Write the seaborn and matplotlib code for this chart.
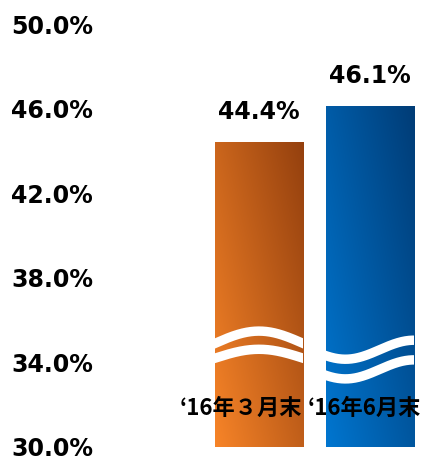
import numpy as np
import matplotlib
matplotlib.use("Agg")
import matplotlib.pyplot as plt
import matplotlib.transforms as mtransforms
import seaborn as sns
import pandas as pd

# ---- data ----
categories = ["\u201816年３月末", "\u201816年6月末"]
values = [44.4, 46.1]
yticks = [30, 34, 38, 42, 46, 50]
tick_labels = [f"{t:.1f}%" for t in yticks]

# ---- styles ----
grad_light = [np.array([0xF7, 0x84, 0x28]) / 255, np.array([0x00, 0x76, 0xD0]) / 255]
grad_dark = [np.array([0x94, 0x40, 0x0E]) / 255, np.array([0x00, 0x3C, 0x76]) / 255]
label_shift = [-0.16, -0.05]

sns.set_theme(style="white")
plt.rcParams["font.family"] = ["DejaVu Sans"]

fig = plt.figure(figsize=(4.23, 4.59), dpi=100)
ax = fig.add_axes([100 / 423, 12 / 459, 323 / 423, 423 / 459])

df = pd.DataFrame({"period": categories, "ratio": values})
sns.barplot(data=df, x="period", y="ratio", ax=ax, width=0.793,
            color="#888888", saturation=1)

ylo, yhi = 30, 50
xlim = (-1.432, 1.477)

nx, ny = 120, 200
X, Y = np.meshgrid(np.linspace(0, 1, nx), np.linspace(0, 1, ny))
S = np.clip(0.55 * X + 0.45 * Y, 0, 1)[..., None]

for i, p in enumerate(ax.patches):
    x0, w, top = p.get_x(), p.get_width(), p.get_height()
    p.set_facecolor("none")
    p.set_edgecolor("none")
    rgb = grad_light[i] * (1 - S) + grad_dark[i] * S
    im = ax.imshow(rgb, extent=[x0, x0 + w, ylo, top], origin="lower",
                   aspect="auto", zorder=2, interpolation="bilinear")
    im.set_clip_path(p)

    # decorative axis-break waves
    t = np.linspace(-0.05, 1.05, 300)
    xs = x0 + t * w
    if i == 0:
        y1 = 34.9 + 0.58 * np.sin(np.pi * t)
        y2 = 34.2 + 0.42 * np.sin(np.pi * t)
    else:
        y1 = 34.6 - 0.45 * np.cos(np.pi * (t - 0.22) / 0.78)
        y2 = y1 - 0.93
    for yy in (y1, y2):
        ln, = ax.plot(xs, yy, color="white", lw=6.8, zorder=3,
                      solid_capstyle="butt")
        ln.set_clip_path(p)

    # value label
    ax.annotate(f"{values[i]:.1f}%", (x0 + w / 2, top), xytext=(0, 21.6),
                textcoords="offset points", ha="center", va="center",
                fontsize=17, fontweight="bold", color="black", zorder=5)

    # category label inside bar
    trans = mtransforms.blended_transform_factory(ax.transData, ax.transAxes)
    ax.text(x0 + w / 2 + label_shift[i], (447 - 408) / 423, categories[i],
            transform=trans, ha="center", va="center", fontsize=16,
            fontweight="bold", color="black", zorder=5,
            family=["Noto Sans CJK JP", "DejaVu Sans"])

ax.set_xlim(*xlim)
ax.set_ylim(ylo, yhi)
ax.set_yticks(yticks)
ax.set_yticklabels(tick_labels, fontsize=17, fontweight="bold", color="black")
ax.tick_params(axis="y", length=0, pad=5)
ax.set_xticks([])
ax.set_xlabel("")
ax.set_ylabel("")
for s in ax.spines.values():
    s.set_visible(False)
ax.patch.set_alpha(0)

fig.savefig("out.png", dpi=100)
